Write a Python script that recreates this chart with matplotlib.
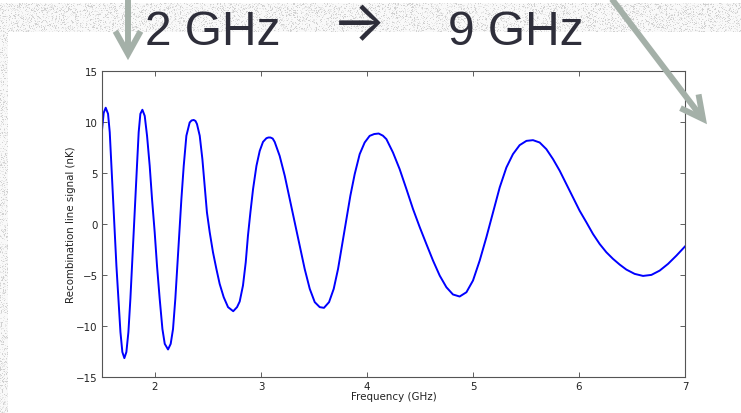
import numpy as np
import matplotlib
matplotlib.use("Agg")
import matplotlib.pyplot as plt

# Recombination line signal across the band
freq_ghz = [
    1.500, 1.516, 1.535, 1.557, 1.573, 1.589, 1.604, 1.620, 1.636, 1.655,
    1.674, 1.692, 1.711, 1.730, 1.749, 1.768, 1.783, 1.799, 1.815, 1.830,
    1.846, 1.862, 1.881, 1.903, 1.925, 1.950, 1.972, 1.997, 2.019, 2.044,
    2.070, 2.092, 2.123, 2.148, 2.170, 2.192, 2.211, 2.230, 2.249, 2.271,
    2.296, 2.327, 2.345, 2.365, 2.382, 2.396, 2.422, 2.447, 2.469, 2.490,
    2.516, 2.547, 2.579, 2.610, 2.648, 2.689, 2.738, 2.774, 2.799, 2.830,
    2.856, 2.877, 2.900, 2.925, 2.957, 2.988, 3.019, 3.051, 3.070, 3.089,
    3.110, 3.129, 3.176, 3.224, 3.271, 3.318, 3.365, 3.412, 3.460, 3.507,
    3.554, 3.594, 3.642, 3.686, 3.727, 3.764, 3.806, 3.843, 3.884, 3.931,
    3.978, 4.025, 4.068, 4.110, 4.150, 4.183, 4.245, 4.308, 4.372, 4.434,
    4.497, 4.560, 4.623, 4.686, 4.749, 4.811, 4.874, 4.938, 5.000, 5.063,
    5.126, 5.189, 5.252, 5.315, 5.377, 5.440, 5.504, 5.566, 5.629, 5.692,
    5.755, 5.818, 5.881, 5.943, 6.006, 6.070, 6.132, 6.195, 6.258, 6.321,
    6.384, 6.447, 6.525, 6.604, 6.683, 6.761, 6.840, 6.919, 7.000,
]
signal_nk = [
    9.20, 10.90, 11.40, 10.80, 9.00, 5.70, 2.45, -0.80, -4.10, -7.30,
    -10.60, -12.55, -13.15, -12.55, -10.60, -7.30, -4.10, -0.80, 2.45, 5.70,
    9.00, 10.80, 11.20, 10.60, 8.65, 5.70, 2.45, -0.80, -4.10, -7.30,
    -10.30, -11.75, -12.30, -11.75, -10.30, -7.30, -4.10, -0.80, 2.45, 5.70,
    8.65, 9.95, 10.15, 10.20, 10.10, 9.80, 8.65, 6.36, 3.75, 1.14,
    -0.80, -2.77, -4.40, -5.87, -7.17, -8.15, -8.55, -8.15, -7.60, -6.03,
    -3.75, -1.14, 1.14, 3.42, 5.70, 7.17, 8.05, 8.41, 8.48, 8.48,
    8.38, 8.05, 6.68, 4.73, 2.45, 0.16, -2.12, -4.40, -6.36, -7.66,
    -8.15, -8.22, -7.66, -6.36, -4.40, -2.12, 0.49, 2.77, 4.89, 6.85,
    7.99, 8.64, 8.82, 8.87, 8.66, 8.32, 7.01, 5.38, 3.42, 1.47,
    -0.30, -1.96, -3.59, -5.06, -6.20, -6.91, -7.11, -6.69, -5.54, -3.59,
    -1.31, 1.14, 3.59, 5.54, 6.85, 7.73, 8.15, 8.22, 7.99, 7.34,
    6.36, 5.22, 3.91, 2.61, 1.30, 0.16, -0.98, -1.96, -2.77, -3.42,
    -3.98, -4.47, -4.89, -5.09, -4.99, -4.57, -3.91, -3.10, -2.20,
]
x_ticks = [2, 3, 4, 5, 6, 7]
y_ticks = [-15, -10, -5, 0, 5, 10, 15]
x_label = "Frequency (GHz)"
y_label = "Recombination line signal (nK)"
band_start = "2 GHz"
band_arrow = "\u2192"
band_end = "9 GHz"

W, H = 741, 414
fig = plt.figure(figsize=(W / 100, H / 100), dpi=100)
fig.patch.set_facecolor("white")

# Grainy slide border along the top and the left edge
bg = fig.add_axes([0, 0, 1, 1], zorder=0)
yy, xx = np.mgrid[0:H, 0:W]
h = np.sin(xx * 12.9898 + yy * 78.233) * 43758.5453
grain = h - np.floor(h)
tex = np.where(grain > 0.88, 0.82, np.where(grain > 0.70, 0.91, 0.98))
border = ((yy >= 4) & (yy < 33)) | ((xx < 8) & (yy >= 33))
img = np.where(border, tex, 1.0)
bg.imshow(np.dstack([img] * 3), extent=(0, W, H, 0),
          interpolation="nearest", aspect="auto")
bg.set_xlim(0, W)
bg.set_ylim(H, 0)
bg.axis("off")

# Main plot
ax = fig.add_axes([102 / W, 1 - 378 / H, (685 - 102) / W, (378 - 72) / H], zorder=1)
ax.plot(freq_ghz, signal_nk, color="#0000ff", lw=1.4)
ax.set_xlim(1.5, 7)
ax.set_ylim(-15, 15)
ax.set_xticks(x_ticks)
ax.set_yticks(y_ticks)
ax.tick_params(direction="in", length=3.5, width=0.6, color="#444444",
               labelsize=7.4, labelcolor="#222222", top=True, right=True, pad=3)
for s in ax.spines.values():
    s.set_color("#555555")
    s.set_linewidth(0.8)
ax.set_xlabel(x_label, fontsize=7.4, color="#222222", labelpad=0)
ax.set_ylabel(y_label, fontsize=7.4, color="#222222", labelpad=0)

# Overlay with the band annotation and pointer arrows
ov = fig.add_axes([0, 0, 1, 1], zorder=2)
ov.patch.set_alpha(0)
ov.set_xlim(0, W)
ov.set_ylim(H, 0)
ov.axis("off")

arrow_color = "#a4b0a8"


def pointer(start, tip, barb=25, angle=28, lw=4.3):
    start = np.asarray(start, float)
    tip = np.asarray(tip, float)
    d = tip - start
    d /= np.hypot(*d)
    back = -d
    pts = []
    for sgn in (1, -1):
        a = np.deg2rad(sgn * angle)
        r = np.array([back[0] * np.cos(a) - back[1] * np.sin(a),
                      back[0] * np.sin(a) + back[1] * np.cos(a)])
        pts.append(tip + barb * r)
    end = tip - 3 * d
    ov.plot([start[0], end[0]], [start[1], end[1]], color=arrow_color,
            lw=lw, solid_capstyle="butt")
    ov.plot([pts[0][0], tip[0], pts[1][0]], [pts[0][1], tip[1], pts[1][1]],
            color=arrow_color, lw=lw, solid_joinstyle="miter",
            solid_capstyle="butt")


pointer((128, -5), (128, 55), barb=26, angle=29)
pointer((608, -5), (703, 120), barb=25, angle=27)

txt_color = "#2e2e3a"
ov.text(145, 45, band_start, fontsize=34.5, family="Liberation Sans",
        color=txt_color, ha="left", va="baseline")
ov.text(359, 26, band_arrow, fontsize=41, family=["Inter", "DejaVu Sans"],
        color=txt_color, ha="center", va="center")
ov.text(448, 45, band_end, fontsize=34.5, family="Liberation Sans",
        color=txt_color, ha="left", va="baseline")

fig.savefig("out.png", dpi=100)
